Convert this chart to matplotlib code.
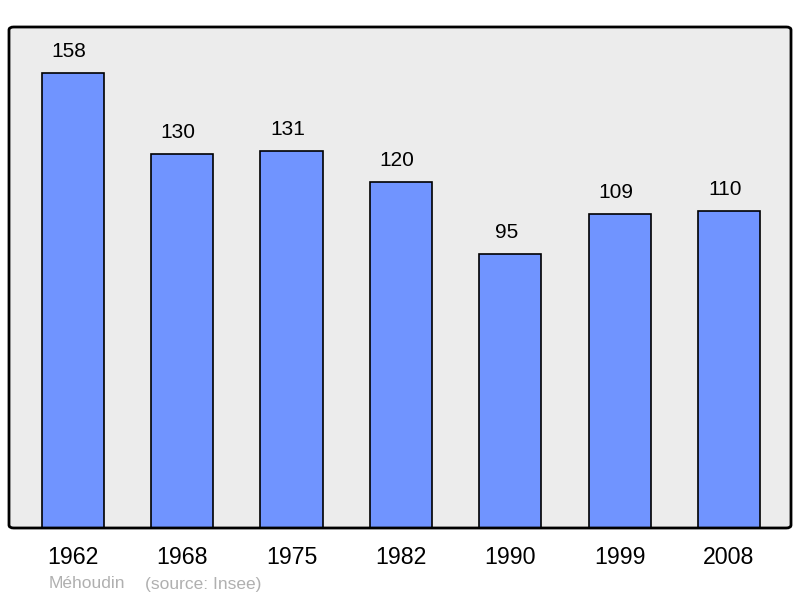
import matplotlib.pyplot as plt
from matplotlib.patches import FancyBboxPatch

#Data
years = ['1962', '1968', '1975', '1982', '1990', '1999', '2008']
population = [158, 130, 131, 120, 95, 109, 110]

plt.rcParams['font.family'] = ['Liberation Sans', 'DejaVu Sans']

fig = plt.figure(figsize=(8, 5.98), dpi=100)
ax = fig.add_axes([9/800, 70/598, 782/800, 501/598])
ax.set_facecolor('#ececec')

x = list(range(len(years)))
ax.bar(x, population, width=0.57, color='#7094ff', edgecolor='black', linewidth=1.2, zorder=2)

#value labels above bars, nudged a little left like the original
for xi, v in zip(x, population):
    ax.annotate(str(v), (xi, v), xytext=(-3, 15.5), textcoords='offset points',
                ha='center', va='center', fontsize=15)

ax.set_xlim(-0.585, 6.567)
ax.set_ylim(0, 174)
ax.set_xticks(x)
ax.set_xticklabels(years, fontsize=16.7)
ax.tick_params(axis='x', length=0, pad=13)
ax.set_yticks([])

#rounded frame
for s in ax.spines.values():
    s.set_visible(False)
frame = FancyBboxPatch((0, 0), 1, 1, boxstyle='round,pad=0,rounding_size=0.006',
                       transform=ax.transAxes, fill=False, edgecolor='black',
                       linewidth=2, zorder=5, clip_on=False)
ax.add_patch(frame)

fig.text(49/800, 1 - 584/598, 'Méhoudin', color='#b0b0b0', fontsize=12.5, va='center')
fig.text(145/800, 1 - 584/598, '(source: Insee)', color='#b0b0b0', fontsize=12.5, va='center')

fig.savefig('out.png', dpi=100)
